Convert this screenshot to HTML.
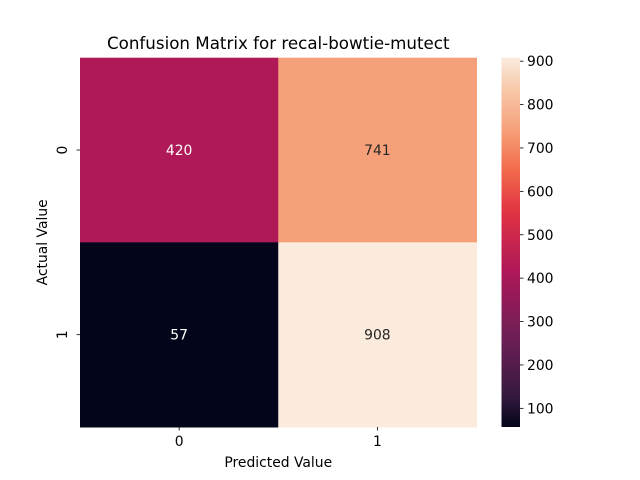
<!DOCTYPE html>
<html><head><meta charset="utf-8"><style>
body{margin:0;background:#fff;}
svg{display:block;font-family:"DejaVu Sans","Liberation Sans",sans-serif;}
</style></head><body>
<svg id="c" width="640" height="480"></svg>
<script>
const rowLabels=["0","1"];
const colLabels=["0","1"];
const values=[[420,741],[57,908]];
const cbarTicks=[100,200,300,400,500,600,700,800,900];
const title="Confusion Matrix for recal-bowtie-mutect";

const stops=[[0,"#03051a"],[0.083,"#35193e"],[0.25,"#701f57"],[0.417,"#ad1759"],[0.583,"#e13342"],[0.7,"#f26c4c"],[0.804,"#f6a07a"],[0.917,"#f7c9aa"],[1,"#faebdd"]];
const NS="http://www.w3.org/2000/svg";
const svg=document.getElementById('c');
function mk(t,a,p){const e=document.createElementNS(NS,t);for(const k in a)e.setAttribute(k,a[k]);(p||svg).appendChild(e);return e;}
function hex(h){return [1,3,5].map(i=>parseInt(h.substr(i,2),16));}
function cmap(t){t=Math.max(0,Math.min(1,t));for(let i=1;i<stops.length;i++){if(t<=stops[i][0]){const a=stops[i-1],b=stops[i];const f=(t-a[0])/(b[0]-a[0]);const c1=hex(a[1]),c2=hex(b[1]);return "rgb("+c1.map((v,j)=>Math.round(v+(c2[j]-v)*f)).join(",")+")";}}return stops[stops.length-1][1];}
function lum(c){const m=c.match(/\d+/g).map(v=>{v/=255;return v<=0.03928?v/12.92:Math.pow((v+0.055)/1.055,2.4);});return 0.2126*m[0]+0.7152*m[1]+0.0722*m[2];}

const X0=80,X1=476.5,Y0=57.7,Y1=427;
const FS=13.9;
const flat=values.flat();const vmin=Math.min(...flat),vmax=Math.max(...flat);
const cw=(X1-X0)/colLabels.length,ch=(Y1-Y0)/rowLabels.length;
const norm=v=>(v-vmin)/(vmax-vmin);

values.forEach((row,r)=>row.forEach((v,c)=>{
  const col=cmap(norm(v));
  const rect=mk('rect',{x:X0+c*cw,y:Y0+r*ch,width:cw+0.5,height:ch+0.5,fill:col});
  
  
  const t=mk('text',{x:X0+(c+0.5)*cw,y:Y0+(r+0.5)*ch+5,'text-anchor':'middle','font-size':FS,fill:lum(col)>0.408?'#262626':'#ffffff'});
  t.textContent=v;
  
  
}));
colLabels.forEach((l,i)=>{const x=X0+(i+0.5)*cw;
  mk('line',{x1:x,x2:x,y1:Y1,y2:Y1+3.5,stroke:'#000','stroke-width':0.8});
  const t=mk('text',{x:x,y:Y1+19,'text-anchor':'middle','font-size':FS});t.textContent=l;
  });
rowLabels.forEach((l,i)=>{const y=Y0+(i+0.5)*ch;
  mk('line',{x1:X0-3.5,x2:X0,y1:y,y2:y,stroke:'#000','stroke-width':0.8});
  const t=mk('text',{x:X0-13,y:y,'text-anchor':'middle','font-size':FS,transform:'rotate(-90 '+(X0-13)+' '+y+')'});t.textContent=l;
  });

let t=mk('text',{x:(X0+X1)/2,y:49,'text-anchor':'middle','font-size':16.7});t.textContent=title;

t=mk('text',{x:(X0+X1)/2,y:467,'text-anchor':'middle','font-size':FS});t.textContent="Predicted Value";

t=mk('text',{x:47,y:(Y0+Y1)/2,'text-anchor':'middle','font-size':FS,transform:'rotate(-90 47 '+(Y0+Y1)/2+')'});t.textContent="Actual Value";


// colorbar
const CX0=501.5,CX1=520;
const defs=mk('defs',{});const g=mk('linearGradient',{id:'cg',x1:0,y1:1,x2:0,y2:0},defs);
for(let i=0;i<=40;i++){mk('stop',{offset:i/40,'stop-color':cmap(i/40)},g);}
const cb=mk('rect',{x:CX0,y:Y0,width:CX1-CX0,height:Y1-Y0,fill:'url(#cg)'});

const cy=v=>Y1-norm(v)*(Y1-Y0);
cbarTicks.forEach(v=>{const y=cy(v);
  mk('line',{x1:CX1,x2:CX1+3.5,y1:y,y2:y,stroke:'#000','stroke-width':0.8});
  const tt=mk('text',{x:CX1+7,y:y+5,'font-size':FS});tt.textContent=v;
  });
</script>
</body></html>
